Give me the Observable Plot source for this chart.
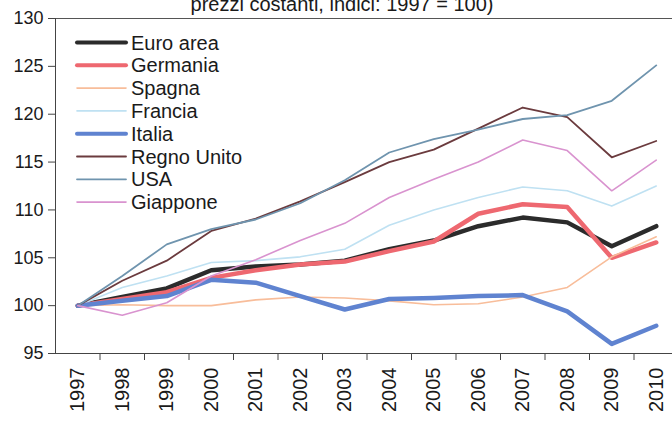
<!DOCTYPE html>
<html>
<head>
<meta charset="utf-8">
<script src="https://cdn.jsdelivr.net/npm/d3@7"></script>
<script src="https://cdn.jsdelivr.net/npm/@observablehq/plot@0.6"></script>
<style>
  html, body { margin: 0; padding: 0; background: #fff; overflow: hidden; }
  #chart { position: relative; width: 672px; height: 421px; }
  #chart svg { position: absolute; left: 0; top: 0; }
</style>
</head>
<body>
<div id="chart"></div>
<script>
// GDP at constant prices, index 1997 = 100
const years = [1997, 1998, 1999, 2000, 2001, 2002, 2003, 2004, 2005, 2006, 2007, 2008, 2009, 2010];

const euroArea   = [100, 100.9, 101.8, 103.7, 104.1, 104.3, 104.7, 105.9, 106.8, 108.3, 109.2, 108.7, 106.2, 108.3];
const germania   = [100, 100.7, 101.4, 102.9, 103.7, 104.3, 104.6, 105.7, 106.7, 109.6, 110.6, 110.3, 105.0, 106.6];
const spagna     = [100, 100.1, 100.0, 100.0, 100.6, 100.9, 100.8, 100.5, 100.1, 100.2, 100.9, 101.9, 105.1, 107.2];
const francia    = [100, 101.9, 103.1, 104.5, 104.7, 105.1, 105.9, 108.4, 110.0, 111.3, 112.4, 112.0, 110.4, 112.5];
const italia     = [100, 100.5, 101.0, 102.7, 102.4, 101.0, 99.6, 100.7, 100.8, 101.0, 101.1, 99.4, 96.0, 97.9];
const regnoUnito = [100, 102.6, 104.7, 107.8, 109.1, 110.9, 112.9, 115.0, 116.3, 118.5, 120.7, 119.7, 115.5, 117.2];
const usa        = [100, 103.1, 106.4, 108.0, 109.0, 110.7, 113.1, 116.0, 117.4, 118.4, 119.5, 119.9, 121.4, 125.1];
const giappone   = [100, 99.0, 100.3, 103.1, 104.8, 106.8, 108.6, 111.3, 113.2, 115.0, 117.3, 116.2, 112.0, 115.2];

const seriesNames  = ["Euro area", "Germania", "Spagna", "Francia", "Italia", "Regno Unito", "USA", "Giappone"];
const seriesValues = [euroArea, germania, spagna, francia, italia, regnoUnito, usa, giappone];
const seriesColors = ["#2b2b2b", "#ee6870", "#f8bd9a", "#bfe1f2", "#5f83d0", "#6b3b3e", "#6f94ae", "#d993cf"];
const seriesWidths = [4.5, 4.5, 1.6, 1.6, 4.5, 1.8, 1.8, 1.6];

const yTicks = [95, 100, 105, 110, 115, 120, 125, 130];
const titleText = "prezzi costanti, indici: 1997 = 100)";

const font = "Liberation Sans, Arial, Helvetica, sans-serif";

// long-format table: one row per series and year
const rows = seriesNames.flatMap((name, s) =>
  years.map((year, i) => ({series: name, order: s, year, value: seriesValues[s][i]}))
);

// category boundaries (between consecutive years) carry the x-axis tick marks
const boundaries = years.slice(0, -1).map(y => y + 0.5);

const marks = [
  Plot.ruleY([130], {stroke: "#555", strokeWidth: 1}),
  Plot.ruleY([95], {stroke: "#444", strokeWidth: 1}),
  Plot.ruleX([years[0] - 0.5], {stroke: "#444", strokeWidth: 1}),
  Plot.axisY({ticks: yTicks, tickSize: 7, tickPadding: 5, fontSize: 18, fill: "#1a1a1a", stroke: "#444", label: null}),
  Plot.axisX({ticks: boundaries, tickSize: 7, tickFormat: () => "", stroke: "#444", label: null}),
  Plot.axisX({ticks: years, tickSize: 0, tickPadding: 14, tickRotate: -90, tickFormat: d => String(d), fontSize: 20, fill: "#1a1a1a", label: null}),
  ...seriesNames.map((name, s) =>
    Plot.line(rows.filter(r => r.series === name), {
      x: "year", y: "value",
      stroke: seriesColors[s], strokeWidth: seriesWidths[s],
      strokeLinejoin: "round", strokeLinecap: "round"
    })
  ),
  Plot.text([titleText], {frameAnchor: "top", dx: -22, dy: -8, lineAnchor: "bottom", fontSize: 20, fill: "#1a1a1a"})
];

const chart = Plot.plot({
  width: 672,
  height: 421,
  marginTop: 18,
  marginBottom: 68,
  marginLeft: 55,
  marginRight: 0,
  style: {fontFamily: font, background: "transparent", overflow: "visible"},
  x: {type: "linear", domain: [years[0] - 0.5, years[years.length - 1] + 0.5], range: [55, 678]},
  y: {domain: [95, 130]},
  marks
});

const container = document.getElementById("chart");
container.appendChild(chart);

// legend overlaid at the upper left of the plotting area
const legend = d3.select(container).append("svg")
  .attr("width", 672).attr("height", 421)
  .style("pointer-events", "none")
  .style("font-family", font);

const item = legend.selectAll("g")
  .data(seriesNames)
  .join("g")
  .attr("transform", (d, i) => `translate(77, ${42.5 + i * 22.8})`);

item.append("line")
  .attr("x1", 0).attr("x2", 49)
  .attr("stroke", (d, i) => seriesColors[i])
  .attr("stroke-width", (d, i) => Math.min(seriesWidths[i], 4))
  .attr("stroke-linecap", "round");

item.append("text")
  .attr("x", 54)
  .attr("dy", "0.35em")
  .attr("font-size", 20)
  .attr("fill", "#1a1a1a")
  .text(d => d);
</script>
</body>
</html>
